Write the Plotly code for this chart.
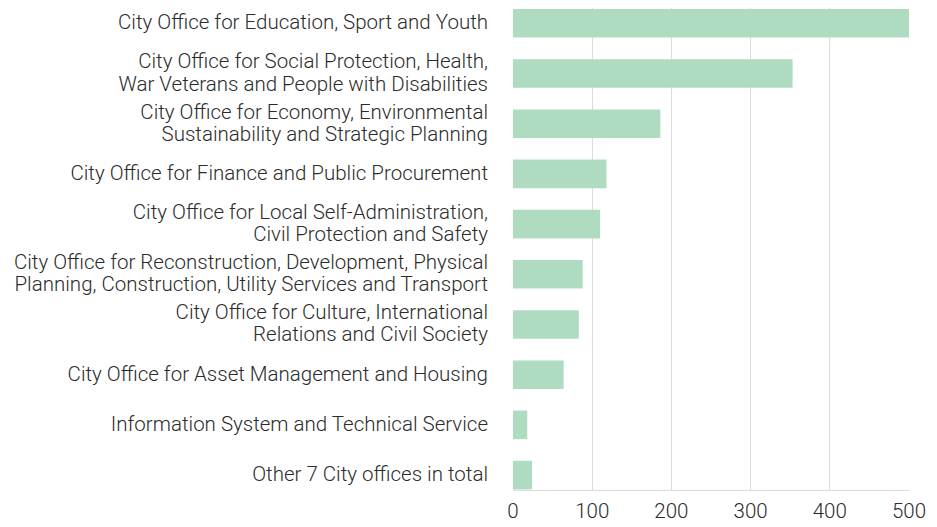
import plotly.graph_objects as go

categories = [
    "City Office for Education, Sport and Youth",
    "City Office for Social Protection, Health,<br>War Veterans and People with Disabilities",
    "City Office for Economy, Environmental<br>Sustainability and Strategic Planning",
    "City Office for Finance and Public Procurement",
    "City Office for Local Self-Administration,<br>Civil Protection and Safety",
    "City Office for Reconstruction, Development, Physical<br>Planning, Construction, Utility Services and Transport",
    "City Office for Culture, International<br>Relations and Civil Society",
    "City Office for Asset Management and Housing",
    "Information System and Technical Service",
    "Other 7 City offices in total",
]
values = [502, 353, 186, 118, 110, 88, 83, 64, 18, 24]
x_ticks = [0, 100, 200, 300, 400, 500]


def styled(label):
    return "<br>".join(
        '<span style="font-size:20.5px">' + part + "</span>" for part in label.split("<br>")
    )


fig = go.Figure(go.Bar(
    x=values,
    y=categories,
    orientation="h",
    marker=dict(color="#AFDBC1", line=dict(width=0)),
    width=0.57,
))

fig.update_layout(
    width=929,
    height=519,
    margin=dict(l=505, r=28, t=0, b=37),
    paper_bgcolor="white",
    plot_bgcolor="white",
    showlegend=False,
    font=dict(family="Roboto", size=20.5, color="#2b2b2b", weight=300),
)
fig.update_xaxes(
    range=[0, 500],
    tickvals=x_ticks,
    showgrid=True,
    gridcolor="#DCDCDC",
    gridwidth=1,
    zeroline=False,
    showline=True,
    linecolor="#DCDCDC",
    ticks="",
    automargin=False,
    ticklabelstandoff=2,
    tickfont=dict(size=20.5, color="#2b2b2b"),
)
fig.update_yaxes(
    type="category",
    range=[9.297, -0.305],
    tickvals=categories,
    ticktext=[styled(c) for c in categories],
    ticks="",
    ticklabelstandoff=24,
    automargin=False,
    showline=False,
    showgrid=False,
    tickfont=dict(size=17, color="#2b2b2b"),
)

fig.write_html("out.html")
